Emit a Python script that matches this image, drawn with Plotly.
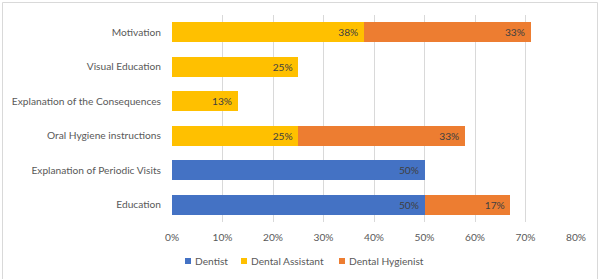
import plotly.graph_objects as go

categories = ["Education", "Explanation of Periodic Visits", "Oral Hygiene instructions",
              "Explanation of the Consequences", "Visual Education", "Motivation"]
dentist = [50, 50, None, None, None, None]
assistant = [None, None, 25, 13, 25, 38]
hygienist = [17, None, 33, None, None, 33]
tick_vals = [0, 10, 20, 30, 40, 50, 60, 70, 80]
tick_text = ["0%", "10%", "20%", "30%", "40%", "50%", "60%", "70%", "80%"]

series = [("Dentist", dentist, "#4472C4"),
          ("Dental Assistant", assistant, "#FFC000"),
          ("Dental Hygienist", hygienist, "#ED7D31")]

FONT = "Lato"
FS = 10.2
fig = go.Figure()
for name, vals, color in series:
    fig.add_trace(go.Bar(
        y=categories, x=vals, name=name, orientation="h",
        marker=dict(color=color, line=dict(width=0)),
        text=[f"{v}%\u00a0" if v else "" for v in vals],
        textposition="inside", insidetextanchor="end",
        textfont=dict(color="#404040", size=FS, family=FONT),
        showlegend=False,
    ))

W, H = 600, 279
l, r, t, b = 172, 24, 15, 57
pw, ph = W - l - r, H - t - b

def px_x(p):
    return (p - l) / pw

def px_y(p):
    return (H - b - p) / ph

shapes = [dict(type="rect", xref="paper", yref="paper",
               x0=px_x(2.5), x1=px_x(597.5), y0=px_y(300), y1=px_y(2.5),
               line=dict(color="#D9D9D9", width=1), layer="below")]
annotations = []
# custom legend: small square + label
legend_x = [185, 241, 339]
ly = 261
for (name, _, color), x0 in zip(series, legend_x):
    shapes.append(dict(type="rect", xref="paper", yref="paper",
                       x0=px_x(x0), x1=px_x(x0 + 6), y0=px_y(ly + 3), y1=px_y(ly - 3),
                       fillcolor=color, line=dict(width=0)))
    annotations.append(dict(xref="paper", yref="paper", x=px_x(x0 + 8), y=px_y(ly),
                            xanchor="left", yanchor="middle", showarrow=False,
                            text=name, font=dict(size=FS, color="#595959", family=FONT)))

fig.update_layout(
    width=W, height=H, barmode="stack", bargap=0.42,
    margin=dict(l=l, r=r, t=t, b=b, autoexpand=False),
    paper_bgcolor="white", plot_bgcolor="white",
    font=dict(family=FONT, size=FS, color="#595959"),
    uniformtext=dict(minsize=6, mode="show"),
    xaxis=dict(range=[0, 80], tickvals=tick_vals, ticktext=tick_text,
               showgrid=True, gridcolor="#D9D9D9", gridwidth=1,
               zeroline=False, showline=False, automargin=False,
               ticks="outside", ticklen=6, tickcolor="rgba(0,0,0,0)",
               tickfont=dict(size=FS, color="#595959")),
    yaxis=dict(showgrid=False, zeroline=False, showline=False, automargin=False,
               ticks="outside", ticklen=8, tickcolor="rgba(0,0,0,0)",
               tickfont=dict(size=FS, color="#595959")),
    showlegend=False,
    shapes=shapes,
    annotations=annotations,
)
fig.write_html("out.html")
